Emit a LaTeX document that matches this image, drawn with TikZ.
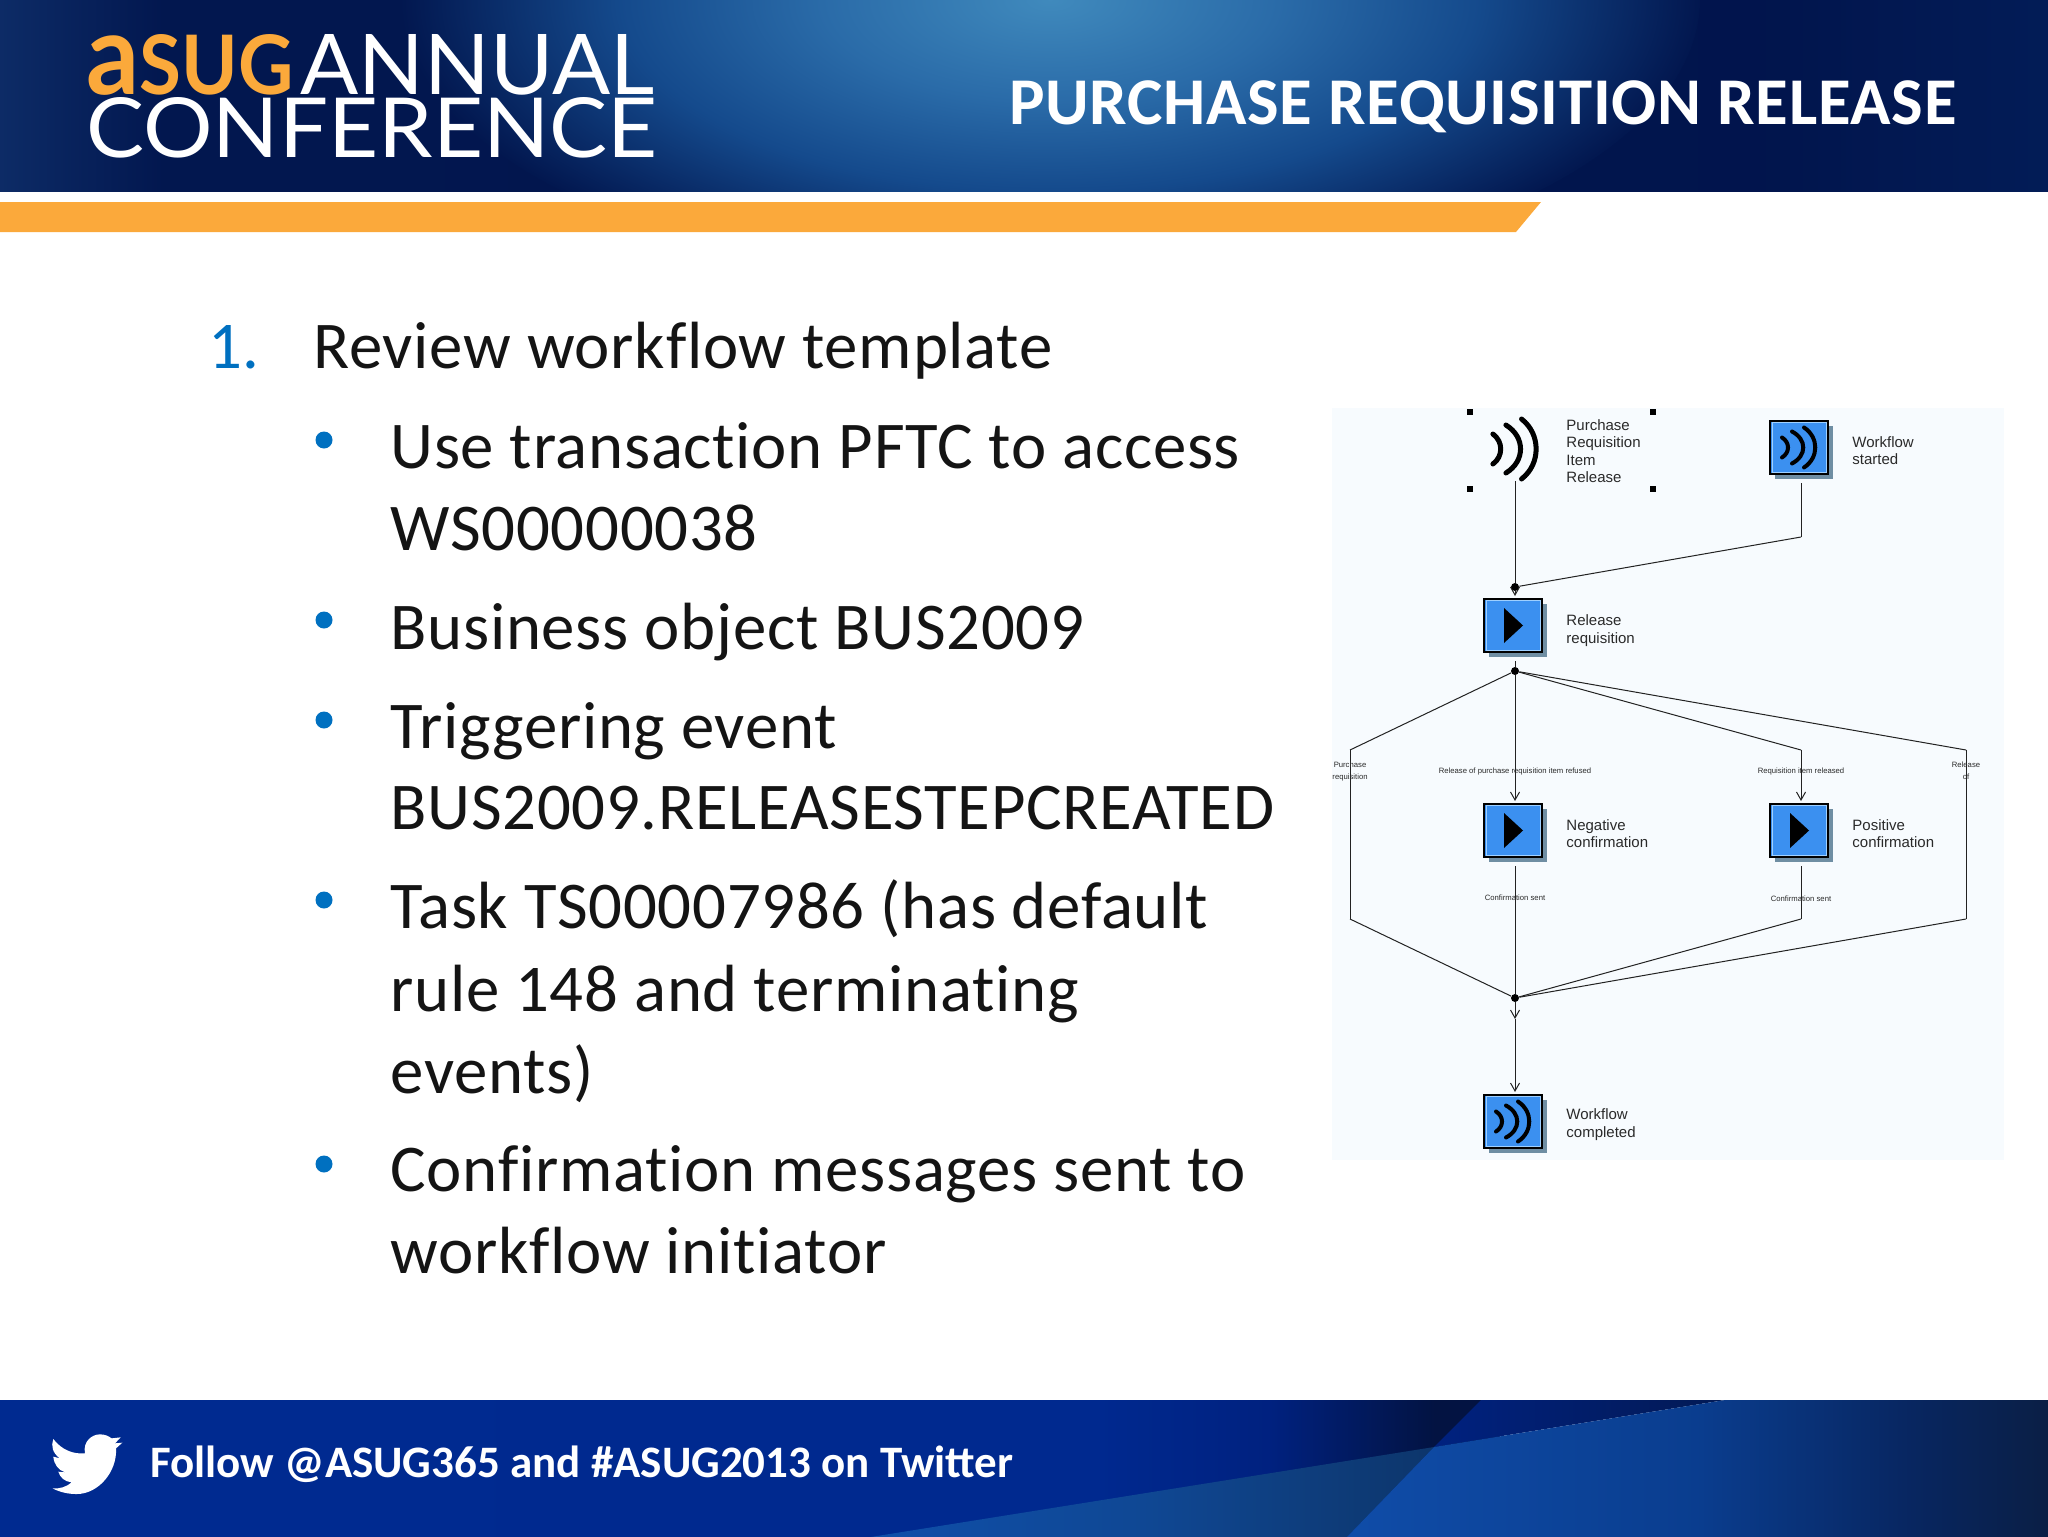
\documentclass[tikz,border=0pt]{standalone}
\usepackage{fontspec}
\setmainfont{Carlito}
\newfontfamily\bodyfont[Ligatures=NoCommon,LetterSpace=1.1]{Carlito}
\newfontfamily\labelfont{Liberation Sans}
\newfontfamily\logofont{Lato}
\usetikzlibrary{arrows.meta}
\usetikzlibrary{positioning}
\usetikzlibrary{shadows}
\definecolor{SlideNavy}{HTML}{02174F}
\definecolor{SlideOrange}{HTML}{FBA93B}
\definecolor{ListBlue}{HTML}{0070C0}
\definecolor{PanelBg}{HTML}{F7FBFE}
\definecolor{BoxBlue}{HTML}{3B90F0}
\definecolor{BoxEdge}{HTML}{9FD0FF}
\definecolor{BoxShadow}{HTML}{6F8EA3}
\definecolor{LabelGrey}{HTML}{2A2A2A}
\definecolor{LinkGrey}{HTML}{222222}
\pgfdeclarehorizontalshading{headerbase}{100bp}{
  rgb(0bp)=(.05,.17,.40); rgb(25bp)=(.05,.17,.40); rgb(29bp)=(.008,.09,.31);
  rgb(68bp)=(.004,.08,.30); rgb(75bp)=(.01,.11,.34); rgb(100bp)=(.01,.11,.34)}
\pgfdeclareradialshading{headerglow}{\pgfpoint{0bp}{0bp}}{
  rgb(0bp)=(.25,.54,.74); rgb(8.75bp)=(.165,.42,.66); rgb(16.5bp)=(.08,.29,.55);
  rgb(25bp)=(.008,.09,.31); rgb(50bp)=(.008,.09,.31)}
\pgfdeclarehorizontalshading{footerbase}{100bp}{
  rgb(0bp)=(0,.165,.565); rgb(25bp)=(0,.165,.565); rgb(61.7bp)=(0,.16,.56);
  rgb(67.3bp)=(0,.13,.50); rgb(72.8bp)=(.01,.075,.26); rgb(75bp)=(.01,.075,.26); rgb(100bp)=(.01,.075,.26)}
\pgfdeclarehorizontalshading{footerright}{100bp}{
  rgb(0bp)=(.06,.30,.66); rgb(25bp)=(.06,.30,.66); rgb(50bp)=(.04,.24,.56);
  rgb(65bp)=(.03,.15,.38); rgb(75bp)=(.04,.12,.27); rgb(100bp)=(.04,.12,.27)}
\pgfdeclarehorizontalshading{footerleft}{100bp}{
  rgb(0bp)=(.06,.31,.67); rgb(25bp)=(.06,.31,.67); rgb(50bp)=(.06,.28,.58);
  rgb(75bp)=(.05,.21,.42); rgb(100bp)=(.05,.21,.42)}
\pgfdeclarehorizontalshading{footertop}{100bp}{
  rgb(0bp)=(0,.13,.50); rgb(25bp)=(0,.13,.50); rgb(75bp)=(.01,.10,.33); rgb(100bp)=(.01,.10,.33)}
\newcommand{\wavearcs}[3]{
  \begin{scope}[shift={(path picture bounding box.center)},x=#1,y=#2,line width=#3,line cap=round]
    \draw (-17,-10) .. controls (-9,-5) and (-9,5) .. (-17,10);
    \draw (-7,-16) .. controls (8,-8) and (8,8) .. (-7,16);
    \draw (5,-20) .. controls (20,-10) and (20,10) .. (5,20);
  \end{scope}}
\newcommand{\playmark}{
  \fill[black,shift={(path picture bounding box.center)}] (-9,-17.5) -- (10,0) -- (-9,17.5) -- cycle;}
\newcommand{\boxbevel}{
  \draw[BoxEdge,line width=.4pt,shift={(path picture bounding box.center)}] (-27,-25) rectangle (27,25);}
\begin{document}
\begin{tikzpicture}[x=0.5pt,y=-0.5pt,
    >={Straight Barb[length=4pt,width=4.5pt]},
    every edge/.append style={line width=.5pt,draw=LinkGrey},
    flowbox/.style={
      shape=rectangle,
      draw=black,
      line width=1pt,
      fill=BoxBlue,
      minimum width=29pt,
      minimum height=26.5pt,
      inner sep=0pt,
      outer xsep=0pt,
      outer ysep=1.5pt,
      drop shadow={shadow xshift=2.5pt,shadow yshift=-2.5pt,fill=BoxShadow,opacity=1}},
    playbox/.style={flowbox,path picture={\boxbevel\playmark}},
    wavebox/.style={flowbox,path picture={\boxbevel\wavearcs{0.5pt}{-0.5pt}{2pt}}},
    boxlabel/.style={
      inner sep=0pt,
      align=left,
      text=LabelGrey,
      font=\labelfont\fontsize{7.5}{8.65}\selectfont},
    edgelabel/.style={
      inner sep=0pt,
      align=center,
      text=LabelGrey,
      font=\labelfont\fontsize{3.85}{6}\selectfont},
    dotnode/.style={
      shape=circle,
      fill=black,
      minimum size=4pt,
      inner sep=0pt},
    handle/.style={
      shape=rectangle,
      fill=black,
      minimum size=3pt,
      inner sep=0pt},
    bodyline/.style={
      anchor=base west,
      inner sep=0pt,
      align=left,
      text=black!92,
      font=\bodyfont\fontsize{33.4}{40.85}\selectfont},
    bulletdot/.style={
      shape=circle,
      fill=ListBlue,
      minimum size=8.5pt,
      inner sep=0pt}]
    \useasboundingbox (0,0) rectangle (2048,1536);

    \shade[shading=headerbase] (0,0) rectangle (2048,191);
    \begin{scope}
      \clip (0,0) rectangle (2048,191);
      \shade[shading=headerglow] (1050,0) ellipse [x radius=650,y radius=290];
    \end{scope}
    \fill[SlideOrange] (0,202) -- (1541,202) -- (1516,232) -- (0,232) -- cycle;

    \node[name=logoasug,anchor=south west,inner sep=0pt,text=SlideOrange] at (86,96)
      {\resizebox{103.5pt}{30pt}{\logofont\bfseries\scalebox{1.37}{a}SUG}};
    \node[name=logoannual,anchor=south west,inner sep=0pt,text=white] at (300,96)
      {\resizebox{177pt}{30pt}{\logofont ANNUAL}};
    \node[name=logoconf,anchor=south west,inner sep=0pt,text=white] at (86,159)
      {\resizebox{285.5pt}{30pt}{\logofont CONFERENCE}};
    \node[name=title,
      anchor=base east,
      inner sep=0pt,
      text=white,
      font=\bodyfont\bfseries\fontsize{33.4}{40}\selectfont] at (1957,125) {PURCHASE REQUISITION RELEASE};

    \node[name=stepnum,anchor=base west,inner sep=0pt,text=ListBlue,font=\fontsize{33.4}{40}\selectfont] at (208,368) {1.};
    \node[name=review,bodyline] at (313,368) {Review workflow template};
    \foreach \ypos/\tag in {440/use,620/business,720/trigger,900/task,1164/confirm}
      \node[name=bullet\tag,bulletdot] at (324,\ypos) {};
    \node[name=itemuse,bodyline] at (390,468) {Use transaction PFTC to access};
    \node[name=itemuseb,bodyline] at (390,550) {WS00000038};
    \node[name=itembusiness,bodyline] at (390,649) {Business object BUS2009};
    \node[name=itemtrigger,bodyline] at (390,748) {Triggering event};
    \node[name=itemtriggerb,bodyline] at (390,829) {BUS2009.RELEASESTEPCREATED};
    \node[name=itemtask,bodyline] at (390,928) {Task TS00007986 (has default};
    \node[name=itemtaskb,bodyline] at (390,1011) {rule 148 and terminating};
    \node[name=itemtaskc,bodyline] at (390,1093) {events)};
    \node[name=itemconfirm,bodyline] at (390,1191) {Confirmation messages sent to};
    \node[name=itemconfirmb,bodyline] at (390,1273) {workflow initiator};

    \fill[PanelBg] (1332,408) rectangle (2004,1160);

    \node[name=relbox,playbox] at (1513,625.5) {};
    \node[name=negbox,playbox,below=73pt of relbox] {};
    \node[name=posbox,playbox,right=114pt of negbox] {};
    \node[name=startbox,wavebox,above=162pt of posbox] {};
    \node[name=donebox,wavebox,below=116pt of negbox] {};
    \node[name=trigger,
      shape=rectangle,
      minimum width=30pt,
      minimum height=36pt,
      inner sep=0pt,
      outer sep=0pt,
      path picture={\wavearcs{0.65pt}{-0.75pt}{2.5pt}}] at (1515,449) {};
    \foreach \xpos/\ypos/\tag in {1470/412/a,1653/412/b,1470/489/c,1653/489/d}
      \node[name=handle\tag,handle] at (\xpos,\ypos) {};

    \node[name=triggerlabel,boxlabel,anchor=west] at (1566,451) {Purchase\\Requisition\\Item\\Release};
    \node[name=startlabel,boxlabel,right=12pt of startbox,yshift=-1.5pt] {Workflow\\started};
    \node[name=rellabel,boxlabel,right=12pt of relbox,yshift=-2.5pt] {Release\\requisition};
    \node[name=neglabel,boxlabel,right=12pt of negbox,yshift=-1.5pt] {Negative\\confirmation};
    \node[name=poslabel,boxlabel,right=12pt of posbox,yshift=-1.5pt] {Positive\\confirmation};
    \node[name=donelabel,boxlabel,right=12pt of donebox,yshift=-1.5pt] {Workflow\\completed};

    \node[name=topjoin,dotnode] at (1515,587) {};
    \node[name=splitdot,dotnode] at (1515,671) {};
    \node[name=mergedot,dotnode] at (1515,998) {};
    \coordinate (startbend) at (1801,537);
    \coordinate (leftout) at (1350,750);
    \coordinate (leftin) at (1350,919);
    \coordinate (posout) at (1801,750);
    \coordinate (posin) at (1801,919);
    \coordinate (farout) at (1966,750);
    \coordinate (farin) at (1966,919);
    \coordinate (mergetip) at (1515,1019);

    \path (trigger.south) edge[shorten <=-2pt] (topjoin);
    \path (startbox.south -| startbend) edge[shorten <=3pt] (startbend);
    \path (startbend) edge (topjoin);
    \path (topjoin) edge[->] (relbox.north -| topjoin);
    \path (relbox.south -| splitdot) edge[shorten <=3pt] (splitdot);
    \path (splitdot) edge (leftout);
    \path (leftout) edge node[name=leftlabel,edgelabel,pos=0.125] {Purchase\\requisition} (leftin);
    \path (leftin) edge (mergedot);
    \path (splitdot) edge[->] node[name=refusedlabel,edgelabel,pos=0.765] {Release of purchase requisition item refused} (negbox.north -| splitdot);
    \path (splitdot) edge (posout);
    \path (posout) edge[->] node[name=releasedlabel,edgelabel,pos=0.42] {Requisition item released} (posbox.north -| posout);
    \path (splitdot) edge (farout);
    \path (farout) edge node[name=farlabel,edgelabel,pos=0.125] {Release\\of} (farin);
    \path (farin) edge (mergedot);
    \path (negbox.south -| mergedot) edge[shorten <=3pt] node[name=negsent,edgelabel,pos=0.28] {Confirmation sent} (mergedot);
    \path (posbox.south -| posin) edge[shorten <=3pt] node[name=possent,edgelabel,pos=0.65] {Confirmation sent} (posin);
    \path (posin) edge (mergedot);
    \path (mergedot) edge[->] (mergetip);
    \path (mergetip) edge[->] (donebox.north -| mergetip);

    \shade[shading=footerbase] (0,1400) rectangle (1500,1540);
    \shade[shading=footertop] (1481,1400) -- (1725,1400) -- (1434,1447) -- cycle;
    \shade[shading=footerleft] (852,1540) -- (1434,1447) -- (1344,1540) -- cycle;
    \shade[shading=footerright] (1434,1447) -- (1725,1400) -- (2050,1400) -- (2050,1540) -- (1344,1540) -- cycle;
    \begin{scope}[shift={(40,1425)},x=0.1667pt,y=-0.1667pt]
      \fill[white] (40,42) .. controls (65,75) and (100,88) .. (135,85)
        .. controls (128,50) and (155,28) .. (180,28)
        .. controls (195,28) and (205,33) .. (215,40)
        -- (242,37) -- (225,55) -- (247,53) -- (228,70)
        .. controls (232,140) and (175,207) .. (110,207)
        .. controls (85,207) and (60,202) .. (38,190)
        .. controls (60,192) and (80,185) .. (95,172)
        .. controls (75,170) and (60,158) .. (55,140)
        -- (75,142)
        .. controls (55,135) and (42,118) .. (40,95)
        -- (60,100)
        .. controls (38,85) and (32,62) .. (40,42) -- cycle;
    \end{scope}
    \node[name=footnote,
      anchor=base west,
      inner sep=0pt,
      text=white,
      font=\bfseries\fontsize{22.5}{27}\selectfont] at (150,1477) {Follow @ASUG365 and \#ASUG2013 on Twitter};
  \end{tikzpicture}
\end{document}
